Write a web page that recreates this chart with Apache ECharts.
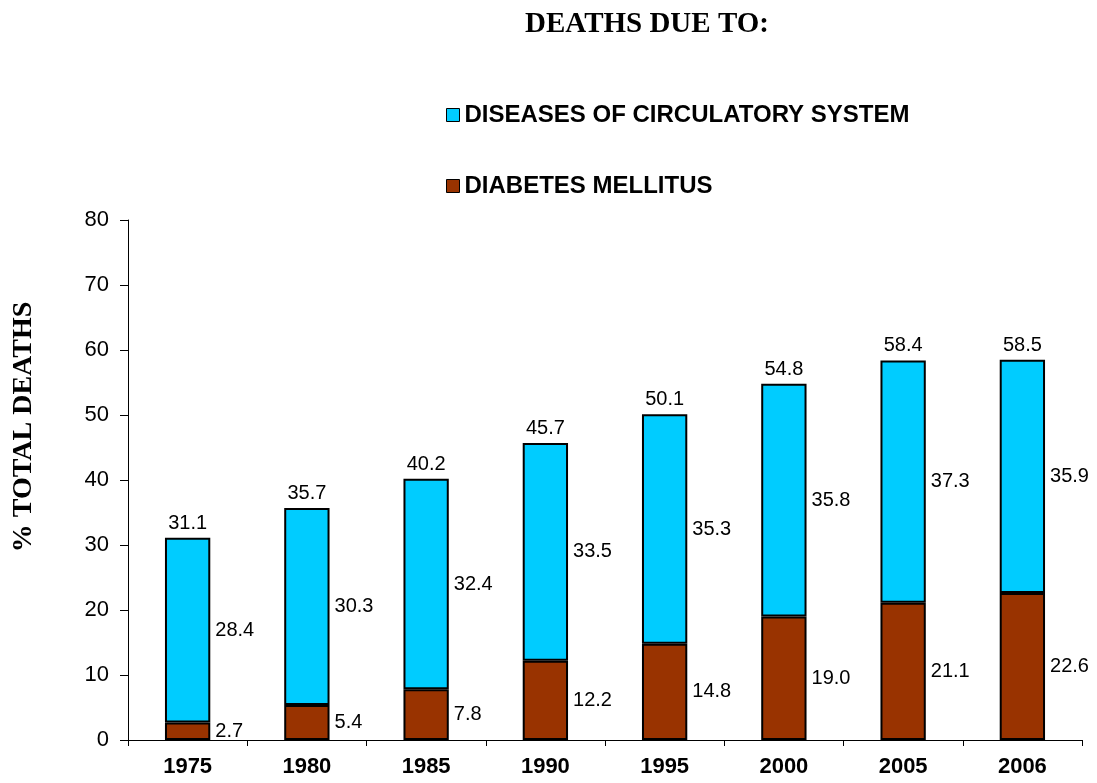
<!DOCTYPE html>
<html>
<head>
<meta charset="utf-8">
<script src="https://cdn.jsdelivr.net/npm/echarts@6/dist/echarts.min.js"></script>
<style>
  html, body { margin: 0; padding: 0; background: #fff; }
  #chart { width: 1097px; height: 783px; }
</style>
</head>
<body>
<div id="chart"></div>
<script>
// data
const years = ["1975", "1980", "1985", "1990", "1995", "2000", "2005", "2006"];
const diabetes = [2.7, 5.4, 7.8, 12.2, 14.8, 19.0, 21.1, 22.6];
const circulatory = [28.4, 30.3, 32.4, 33.5, 35.3, 35.8, 37.3, 35.9];
const totals = [31.1, 35.7, 40.2, 45.7, 50.1, 54.8, 58.4, 58.5];

const chart = echarts.init(document.getElementById("chart"));

const sans = "Liberation Sans, Arial, sans-serif";
const serif = "Liberation Serif, Times New Roman, serif";
const labelFont = { fontFamily: sans, fontSize: 20, color: "#000" };

chart.setOption({
  animation: false,
  title: {
    text: "DEATHS DUE TO:",
    left: 642,
    textAlign: "center",
    top: 5,
    textStyle: { fontFamily: serif, fontSize: 29, fontWeight: "bold", color: "#000" }
  },
  graphic: [
    {
      type: "text",
      x: 24,
      y: 427,
      rotation: Math.PI / 2,
      style: {
        text: "% TOTAL DEATHS",
        align: "center",
        verticalAlign: "middle",
        font: "bold 28px " + serif,
        fill: "#000"
      }
    }
  ],
  legend: {
    orient: "vertical",
    left: 441,
    top: 98,
    itemWidth: 13,
    itemHeight: 13,
    itemGap: 47,
    icon: "rect",
    data: ["DISEASES OF CIRCULATORY SYSTEM", "DIABETES MELLITUS"],
    itemStyle: { borderColor: "#000", borderWidth: 1 },
    textStyle: { fontFamily: sans, fontSize: 24, fontWeight: "bold", color: "#000" }
  },
  grid: { left: 128, right: 15, top: 220, bottom: 43 },
  xAxis: {
    type: "category",
    data: years,
    axisLine: { lineStyle: { color: "#000", width: 1 } },
    axisTick: { show: true, length: 6, lineStyle: { color: "#000" } },
    axisLabel: { fontFamily: sans, fontSize: 22, fontWeight: "bold", color: "#000", margin: 16 }
  },
  yAxis: {
    type: "value",
    min: 0,
    max: 80,
    interval: 10,
    axisLine: { show: true, lineStyle: { color: "#000" } },
    axisTick: { show: true, length: 8, lineStyle: { color: "#000" } },
    splitLine: { show: false },
    axisLabel: { fontFamily: sans, fontSize: 22, color: "#000", margin: 19 }
  },
  series: [
    {
      name: "DIABETES MELLITUS",
      type: "bar",
      stack: "deaths",
      data: diabetes,
      barWidth: "38%",
      itemStyle: { color: "#993300", borderColor: "#000", borderWidth: 2 },
      label: {
        show: true,
        position: "right",
        distance: 5,
        formatter: p => p.value.toFixed(1),
        ...labelFont
      }
    },
    {
      name: "DISEASES OF CIRCULATORY SYSTEM",
      type: "bar",
      stack: "deaths",
      data: circulatory,
      barWidth: "38%",
      itemStyle: { color: "#00CCFF", borderColor: "#000", borderWidth: 2 },
      label: {
        show: true,
        position: "right",
        distance: 5,
        formatter: p => p.value.toFixed(1),
        ...labelFont
      }
    },
    {
      // invisible points carrying the total on top of each bar
      name: "total",
      type: "line",
      data: totals,
      symbol: "circle",
      symbolSize: 1,
      itemStyle: { color: "rgba(0,0,0,0)" },
      lineStyle: { width: 0, color: "rgba(0,0,0,0)" },
      silent: true,
      label: {
        show: true,
        position: "top",
        distance: 4,
        formatter: p => p.value.toFixed(1),
        ...labelFont
      }
    }
  ]
});
</script>
</body>
</html>
